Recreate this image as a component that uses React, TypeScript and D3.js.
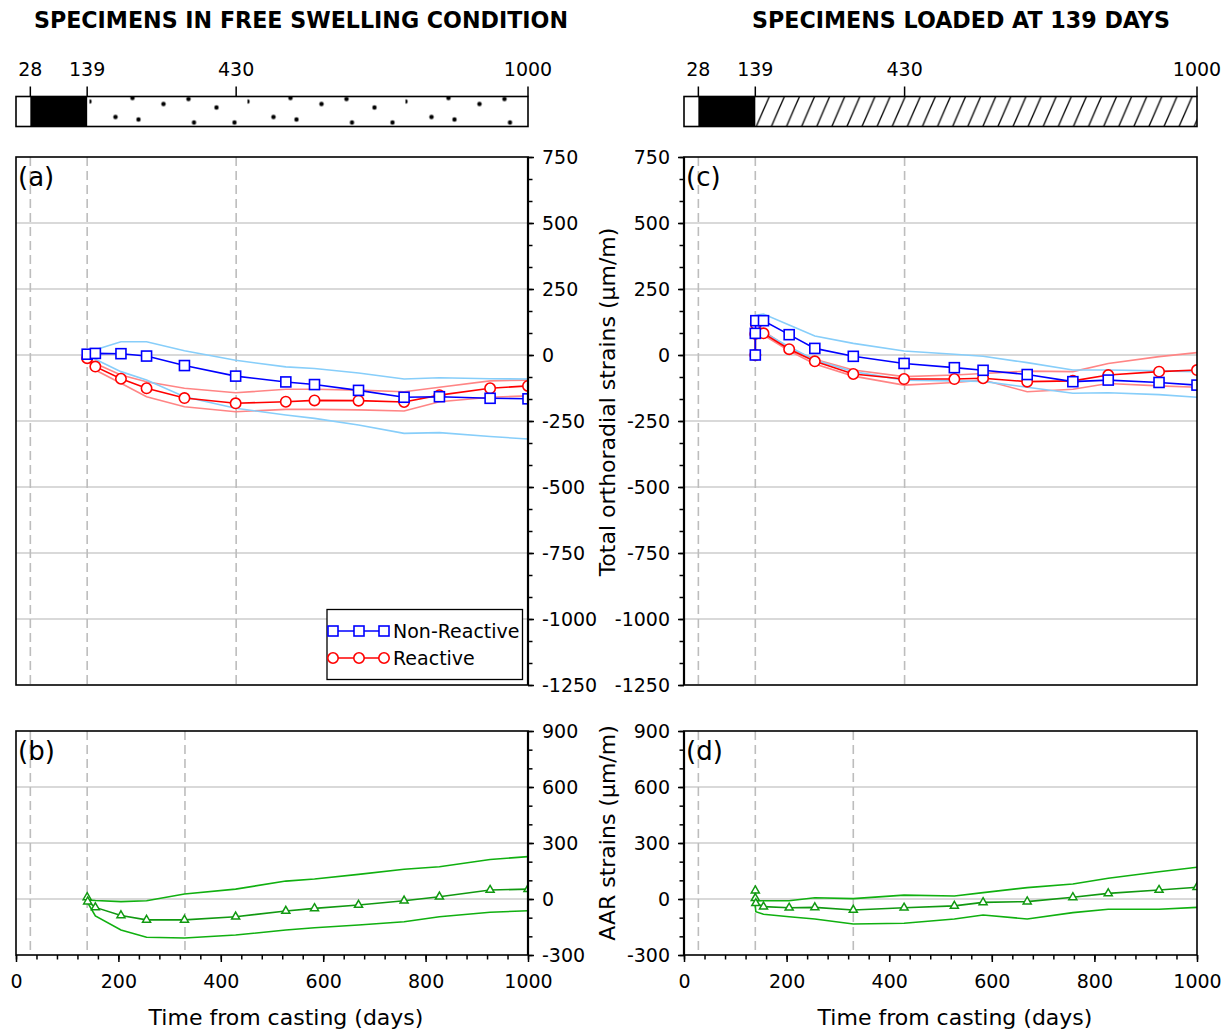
import React, { useEffect, useRef } from 'react';
import * as d3 from 'd3';

// ---- free swelling specimens (panels a, b) ----
const daysA = [139, 155, 205, 255, 329, 429, 527, 583, 669, 758, 827, 926, 1000];
const nonReactiveA = [3, 6, 5, -4, -40, -80, -102, -112, -134, -160, -158, -164, -166];
const nonReactiveAUp = [3, 20, 50, 50, 16, -20, -45, -51, -68, -91, -86, -90, -91];
const nonReactiveALow = [3, -16, -63, -95, -158, -202, -227, -240, -265, -297, -294, -309, -318];
const reactiveA = [-12, -44, -90, -126, -163, -183, -177, -172, -173, -178, -152, -126, -117];
const reactiveAUp = [-5, -32, -76, -101, -126, -143, -130, -130, -133, -139, -122, -98, -95];
const reactiveALow = [-18, -57, -107, -158, -196, -215, -206, -206, -208, -212, -177, -160, -155];

const daysB = [139, 140, 155, 205, 255, 329, 429, 527, 583, 669, 758, 827, 926, 1000];
const aarB = [9, -14, -45, -88, -112, -112, -95, -64, -50, -32, -9, 12, 48, 53];
const aarBUp = [0, -5, -8, -14, -9, 27, 53, 96, 107, 132, 159, 173, 212, 227];
const aarBLow = [0, -20, -91, -166, -205, -209, -193, -166, -154, -139, -122, -95, -71, -63];

// ---- specimens loaded at 139 days (panels c, d) ----
const daysC = [139, 139, 140, 155, 205, 255, 330, 429, 527, 583, 669, 758, 827, 926, 1000];
const nonReactiveC = [0, 82, 130, 130, 77, 25, -5, -32, -48, -58, -74, -101, -95, -104, -114];
const nonReactiveCUp = [0, 100, 151, 155, 114, 72, 44, 15, 3, -5, -29, -57, -57, -60, -63];
const nonReactiveCLow = [0, 65, 110, 85, 31, -19, -63, -95, -98, -100, -122, -145, -143, -150, -160];
const reactiveC = [0, 80, 117, 82, 22, -24, -72, -91, -91, -88, -101, -98, -76, -63, -57];
const reactiveCUp = [0, 90, 125, 90, 25, -16, -57, -82, -76, -70, -61, -63, -32, -6, 9];
const reactiveCLow = [0, 70, 108, 75, 16, -34, -80, -114, -104, -95, -139, -130, -108, -117, -122];

const daysD = [139, 139, 140, 155, 205, 255, 330, 429, 527, 583, 669, 758, 827, 926, 1000];
const aarD = [45, 4, -23, -41, -47, -45, -59, -47, -37, -18, -14, 9, 30, 48, 63];
const aarDUp = [0, -5, -9, -9, -9, 7, 2, 21, 16, 34, 61, 80, 111, 146, 170];
const aarDLow = [0, -40, -68, -82, -95, -107, -134, -130, -107, -86, -107, -73, -55, -55, -45];

// ticks / key dates
const keyDays = [28, 139, 430, 1000];
const dashDaysTop = [28, 139, 430];
const dashDaysBottom = [28, 139, 330];
const strainTicks = [750, 500, 250, 0, -250, -500, -750, -1000, -1250];
const aarTicks = [900, 600, 300, 0, -300];
const timeTicks = [0, 200, 400, 600, 800, 1000];

const FONT = '"DejaVu Sans", Verdana, sans-serif';
const TICK_FS = 19;
const BLUE = '#0000ff';
const LBLUE = '#87cefa';
const RED = '#ff0000';
const LRED = '#ff8585';
const GREEN = '#119911';
const LGREEN = '#10b010';

// dot texture of the "free swelling" bar (dx, dy inside one tile)
const dotTile = [[0, 5], [26, 20.5], [43, 1.5], [49, 23], [74, 7.5], [99, 2.5], [104.5, 26], [127, 11], [145, 26]];

type Series = {
  days: number[]; mid: number[]; up: number[]; low: number[];
  color: string; light: string; marker: 'square' | 'circle' | 'triangle';
};

type PanelCfg = {
  id: string; left: number; right: number; top: number; bottom: number;
  yDomain: [number, number]; yTicks: number[]; yMinor: number[];
  side: 'left' | 'right'; dashes: number[]; letter: string;
  series: Series[]; xAxis: boolean;
};

function drawPanel(root: any, p: PanelCfg) {
  const x = d3.scaleLinear().domain([0, 1000]).range([p.left, p.right]);
  const y = d3.scaleLinear().domain(p.yDomain).range([p.bottom, p.top]);
  const g = root.append('g');

  g.append('clipPath').attr('id', 'clip-' + p.id)
    .append('rect')
    .attr('x', p.left).attr('y', p.top)
    .attr('width', p.right - p.left).attr('height', p.bottom - p.top);

  // horizontal grid
  g.selectAll('.grid')
    .data(p.yTicks.filter((v) => v > p.yDomain[0] && v < p.yDomain[1]))
    .enter().append('line')
    .attr('x1', p.left).attr('x2', p.right)
    .attr('y1', (d: number) => y(d)).attr('y2', (d: number) => y(d))
    .attr('stroke', '#cccccc').attr('stroke-width', 1.5);

  // key dates
  g.selectAll('.vdash')
    .data(p.dashes)
    .enter().append('line')
    .attr('x1', (d: number) => x(d)).attr('x2', (d: number) => x(d))
    .attr('y1', p.top).attr('y2', p.bottom)
    .attr('stroke', '#bdbdbd').attr('stroke-width', 1.6)
    .attr('stroke-dasharray', '9,5');

  const plot = g.append('g').attr('clip-path', `url(#clip-${p.id})`);

  const lineOf = (s: Series) => d3.line<number>()
    .x((d, i) => x(s.days[i]))
    .y((d) => y(d));

  // envelopes
  p.series.forEach((s) => {
    [s.up, s.low].forEach((arr) => {
      plot.append('path').datum(arr)
        .attr('fill', 'none').attr('stroke', s.light).attr('stroke-width', 1.6)
        .attr('d', lineOf(s));
    });
  });

  // mean curves + markers
  p.series.forEach((s) => {
    plot.append('path').datum(s.mid)
      .attr('fill', 'none').attr('stroke', s.color).attr('stroke-width', 1.6)
      .attr('d', lineOf(s));
    const pts = s.mid.map((v, i) => [x(s.days[i]), y(v)]);
    if (s.marker === 'square') {
      plot.selectAll(null).data(pts).enter().append('rect')
        .attr('x', (d: number[]) => d[0] - 5).attr('y', (d: number[]) => d[1] - 5)
        .attr('width', 10).attr('height', 10)
        .attr('fill', 'white').attr('stroke', s.color).attr('stroke-width', 1.6);
    } else if (s.marker === 'circle') {
      plot.selectAll(null).data(pts).enter().append('circle')
        .attr('cx', (d: number[]) => d[0]).attr('cy', (d: number[]) => d[1]).attr('r', 5.2)
        .attr('fill', 'white').attr('stroke', s.color).attr('stroke-width', 1.6);
    } else {
      plot.selectAll(null).data(pts).enter().append('path')
        .attr('transform', (d: number[]) => `translate(${d[0]},${d[1]})`)
        .attr('d', d3.symbol().type(d3.symbolTriangle).size(28)())
        .attr('fill', 'white').attr('stroke', s.color).attr('stroke-width', 1.5);
    }
  });

  // frame
  g.append('rect')
    .attr('x', p.left).attr('y', p.top)
    .attr('width', p.right - p.left).attr('height', p.bottom - p.top)
    .attr('fill', 'none').attr('stroke', '#000').attr('stroke-width', 1.6);

  // y axis
  const axX = p.side === 'right' ? p.right : p.left;
  const mk = p.side === 'right' ? d3.axisRight : d3.axisLeft;
  g.append('line')
    .attr('x1', axX).attr('x2', axX).attr('y1', p.top).attr('y2', p.bottom)
    .attr('stroke', '#000').attr('stroke-width', 2.2);
  g.append('g')
    .attr('transform', `translate(${axX},0)`)
    .call(mk(y).tickValues(p.yMinor).tickSize(4.5).tickFormat(() => ''))
    .call((a: any) => a.select('.domain').remove())
    .call((a: any) => a.selectAll('line').attr('stroke-width', 1.5));
  g.append('g')
    .attr('transform', `translate(${axX},0)`)
    .call(mk(y).tickValues(p.yTicks).tickSize(6).tickPadding(8).tickFormat((d: any) => String(d)))
    .call((a: any) => a.select('.domain').remove())
    .call((a: any) => a.selectAll('line').attr('stroke-width', 1.5))
    .call((a: any) => a.selectAll('text')
      .attr('font-size', TICK_FS).attr('font-family', FONT).attr('fill', '#000'));

  // x axis
  if (p.xAxis) {
    g.append('g')
      .attr('transform', `translate(0,${p.bottom})`)
      .call(d3.axisBottom(x).tickValues(d3.range(0, 1001, 40)).tickSize(4.5).tickFormat(() => ''))
      .call((a: any) => a.select('.domain').remove())
      .call((a: any) => a.selectAll('line').attr('stroke-width', 1.5));
    g.append('g')
      .attr('transform', `translate(0,${p.bottom})`)
      .call(d3.axisBottom(x).tickValues(timeTicks).tickSize(7).tickPadding(13).tickFormat((d: any) => String(d)))
      .call((a: any) => a.select('.domain').remove())
      .call((a: any) => a.selectAll('line').attr('stroke-width', 1.5))
      .call((a: any) => a.selectAll('text')
        .attr('font-size', TICK_FS).attr('font-family', FONT).attr('fill', '#000'));
  }

  g.append('text')
    .attr('x', p.left + 2).attr('y', p.top + 29)
    .attr('font-size', 26).attr('font-family', FONT)
    .text(p.letter);

  return { x, y, g };
}

function drawBar(root: any, x: any, top: number, fillId: string) {
  const h = 30;
  const g = root.append('g');
  g.append('rect')
    .attr('x', x(139)).attr('y', top).attr('width', x(1000) - x(139)).attr('height', h)
    .attr('fill', `url(#${fillId})`);
  g.append('rect')
    .attr('x', x(28)).attr('y', top).attr('width', x(139) - x(28)).attr('height', h)
    .attr('fill', '#000');
  g.append('rect')
    .attr('x', x(0)).attr('y', top).attr('width', x(1000) - x(0)).attr('height', h)
    .attr('fill', 'none').attr('stroke', '#000').attr('stroke-width', 1.6);
  g.selectAll('.kt').data(keyDays).enter().append('line')
    .attr('x1', (d: number) => x(d)).attr('x2', (d: number) => x(d))
    .attr('y1', top - 10).attr('y2', top)
    .attr('stroke', '#000').attr('stroke-width', 1.5);
  g.selectAll('.kl').data(keyDays).enter().append('text')
    .attr('x', (d: number) => x(d)).attr('y', top - 21)
    .attr('text-anchor', 'middle')
    .attr('font-size', TICK_FS).attr('font-family', FONT)
    .text((d: number) => String(d));
}

export default function App() {
  const ref = useRef<SVGSVGElement>(null);

  useEffect(() => {
    const svg = d3.select(ref.current);
    svg.selectAll('*').remove();

    const defs = svg.append('defs');
    const dots = defs.append('pattern').attr('id', 'dots')
      .attr('patternUnits', 'userSpaceOnUse')
      .attr('x', 89.5).attr('y', 96.5).attr('width', 158).attr('height', 30);
    dots.append('rect').attr('width', 158).attr('height', 30).attr('fill', 'white');
    dotTile.forEach(([dx, dy]) => {
      dots.append('circle').attr('cx', dx).attr('cy', dy).attr('r', 2.2).attr('fill', '#000');
    });
    const hatch = defs.append('pattern').attr('id', 'hatch')
      .attr('patternUnits', 'userSpaceOnUse')
      .attr('x', 755.5).attr('y', 96.5).attr('width', 15.1).attr('height', 30);
    hatch.append('rect').attr('width', 15.1).attr('height', 30).attr('fill', 'white');
    hatch.append('line').attr('x1', 0.8).attr('y1', 30).attr('x2', 13.8).attr('y2', 0)
      .attr('stroke', '#000').attr('stroke-width', 1.3);

    const blueA: Series = { days: daysA, mid: nonReactiveA, up: nonReactiveAUp, low: nonReactiveALow, color: BLUE, light: LBLUE, marker: 'square' };
    const redA: Series = { days: daysA, mid: reactiveA, up: reactiveAUp, low: reactiveALow, color: RED, light: LRED, marker: 'circle' };
    const greenB: Series = { days: daysB, mid: aarB, up: aarBUp, low: aarBLow, color: GREEN, light: LGREEN, marker: 'triangle' };
    const blueC: Series = { days: daysC, mid: nonReactiveC, up: nonReactiveCUp, low: nonReactiveCLow, color: BLUE, light: LBLUE, marker: 'square' };
    const redC: Series = { days: daysC, mid: reactiveC, up: reactiveCUp, low: reactiveCLow, color: RED, light: LRED, marker: 'circle' };
    const greenD: Series = { days: daysD, mid: aarD, up: aarDUp, low: aarDLow, color: GREEN, light: LGREEN, marker: 'triangle' };

    const strainMinor = d3.range(0, 25).map((i) => -1250 + i * 250 / 3);
    const aarMinor = d3.range(-300, 901, 100);

    const pa = drawPanel(svg, {
      id: 'a', left: 16, right: 528, top: 157, bottom: 685, yDomain: [-1250, 750],
      yTicks: strainTicks, yMinor: strainMinor, side: 'right', dashes: dashDaysTop,
      letter: '(a)', series: [redA, blueA], xAxis: false,
    });
    drawPanel(svg, {
      id: 'b', left: 16, right: 528, top: 731, bottom: 955, yDomain: [-300, 900],
      yTicks: aarTicks, yMinor: aarMinor, side: 'right', dashes: dashDaysBottom,
      letter: '(b)', series: [greenB], xAxis: true,
    });
    const pc = drawPanel(svg, {
      id: 'c', left: 684, right: 1197, top: 157, bottom: 685, yDomain: [-1250, 750],
      yTicks: strainTicks, yMinor: strainMinor, side: 'left', dashes: dashDaysTop,
      letter: '(c)', series: [redC, blueC], xAxis: false,
    });
    drawPanel(svg, {
      id: 'd', left: 684, right: 1197, top: 731, bottom: 955, yDomain: [-300, 900],
      yTicks: aarTicks, yMinor: aarMinor, side: 'left', dashes: dashDaysBottom,
      letter: '(d)', series: [greenD], xAxis: true,
    });

    drawBar(svg, pa.x, 96.5, 'dots');
    drawBar(svg, pc.x, 96.5, 'hatch');

    // legend in (a)
    const leg = svg.append('g');
    leg.append('rect').attr('x', 327).attr('y', 609.5).attr('width', 195.5).attr('height', 70)
      .attr('fill', 'white').attr('stroke', '#000').attr('stroke-width', 1.3);
    [
      { label: 'Non-Reactive', s: blueA, yy: 631 },
      { label: 'Reactive', s: redA, yy: 658 },
    ].forEach((e) => {
      leg.append('line').attr('x1', 328).attr('x2', 385).attr('y1', e.yy).attr('y2', e.yy)
        .attr('stroke', e.s.color).attr('stroke-width', 1.6);
      [333, 359, 384].forEach((cx) => {
        if (e.s.marker === 'square') {
          leg.append('rect').attr('x', cx - 5).attr('y', e.yy - 5).attr('width', 10).attr('height', 10)
            .attr('fill', 'white').attr('stroke', e.s.color).attr('stroke-width', 1.6);
        } else {
          leg.append('circle').attr('cx', cx).attr('cy', e.yy).attr('r', 5.2)
            .attr('fill', 'white').attr('stroke', e.s.color).attr('stroke-width', 1.6);
        }
      });
      leg.append('text').attr('x', 393).attr('y', e.yy + 7)
        .attr('font-size', TICK_FS).attr('font-family', FONT).text(e.label);
    });

    // titles
    svg.append('text').attr('x', 301).attr('y', 28).attr('text-anchor', 'middle')
      .attr('font-size', 22.2).attr('font-weight', 'bold').attr('font-family', FONT)
      .text('SPECIMENS IN FREE SWELLING CONDITION');
    svg.append('text').attr('x', 961).attr('y', 28).attr('text-anchor', 'middle')
      .attr('font-size', 22.2).attr('font-weight', 'bold').attr('font-family', FONT)
      .text('SPECIMENS LOADED AT 139 DAYS');

    svg.append('text').attr('transform', 'translate(615,402) rotate(-90)')
      .attr('text-anchor', 'middle').attr('font-size', 22).attr('font-family', FONT)
      .text('Total orthoradial strains (μm/m)');
    svg.append('text').attr('transform', 'translate(615,833) rotate(-90)')
      .attr('text-anchor', 'middle').attr('font-size', 22).attr('font-family', FONT)
      .text('AAR strains (μm/m)');

    svg.append('text').attr('x', 286).attr('y', 1025).attr('text-anchor', 'middle')
      .attr('font-size', 22).attr('font-family', FONT).text('Time from casting (days)');
    svg.append('text').attr('x', 955).attr('y', 1025).attr('text-anchor', 'middle')
      .attr('font-size', 22).attr('font-family', FONT).text('Time from casting (days)');
  }, []);

  return (
    <svg
      ref={ref}
      width={1231}
      height={1032}
      style={{ position: 'absolute', left: 0, top: 0, background: 'white' }}
    />
  );
}
